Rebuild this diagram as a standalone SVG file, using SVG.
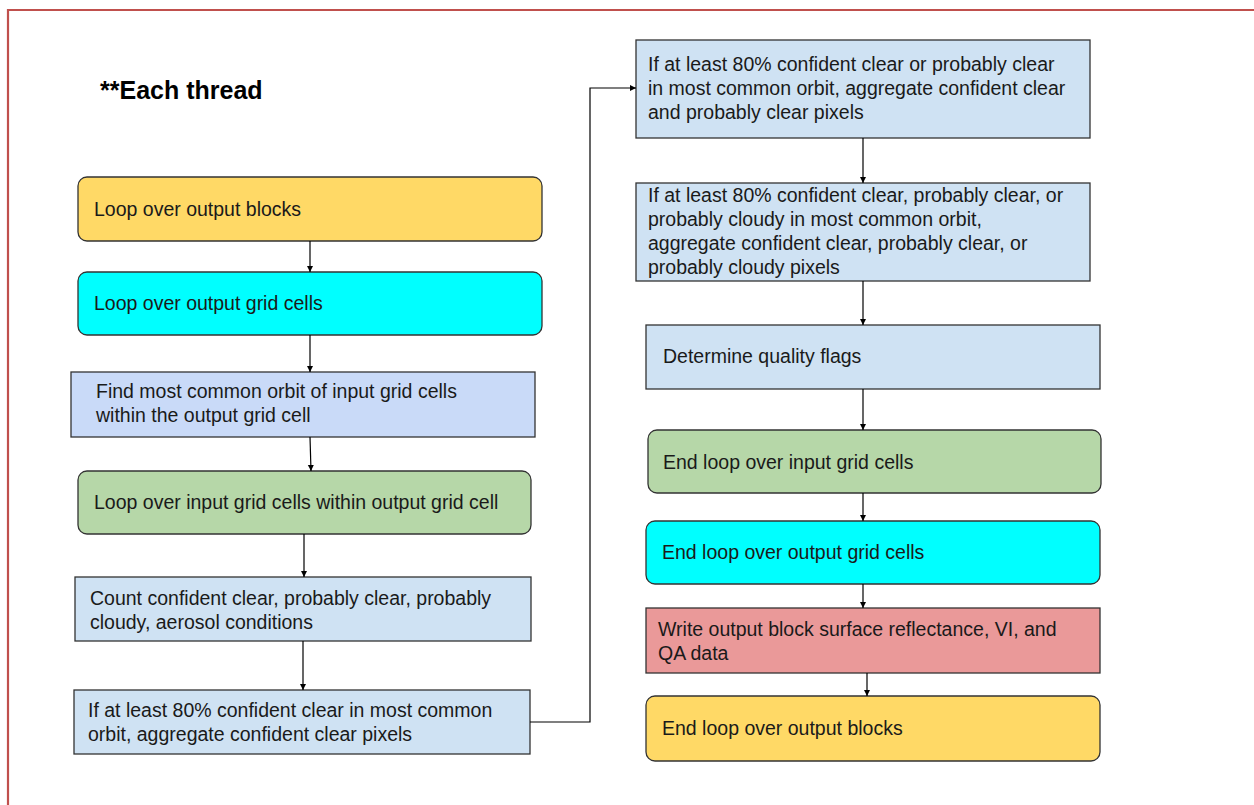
<svg xmlns="http://www.w3.org/2000/svg" width="1254" height="805" viewBox="0 0 1254 805">
  <defs>
    <marker id="arrow" markerWidth="8" markerHeight="8" refX="6" refY="3" orient="auto" markerUnits="userSpaceOnUse">
      <path d="M0,0 L6,3 L0,6 Z" fill="#000"/>
    </marker>
    <style>
      .box { stroke: #333; stroke-width: 1.3; }
      .yellow { fill: #ffd966; }
      .cyan { fill: #00ffff; }
      .blue { fill: #c9daf8; }
      .lblue { fill: #cfe2f3; }
      .green { fill: #b6d7a8; }
      .red { fill: #ea9999; }
      .lbl { font-family: "Liberation Sans", Arial, sans-serif; font-size: 19.5px; fill: #1a1a1a; }
      .title { font-family: "Liberation Sans", Arial, sans-serif; font-size: 25px; font-weight: bold; fill: #000; }
      .conn { fill: none; stroke: #000; stroke-width: 1.2; marker-end: url(#arrow); }
    </style>
  </defs>

  <rect width="1254" height="805" fill="#fff"/>
  <!-- frame -->
  <path d="M8,805 V10 H1254" fill="none" stroke="#c0504d" stroke-width="2.2"/>

  <text class="title" x="100" y="99">**Each thread</text>

  <!-- left column -->
  <g id="loop-output-blocks">
    <rect class="box yellow" x="78" y="177" width="464" height="64" rx="9"/>
    <text class="lbl" x="94" y="216">Loop over output blocks</text>
  </g>
  <g id="loop-output-grid">
    <rect class="box cyan" x="78" y="272" width="464" height="63" rx="9"/>
    <text class="lbl" x="94" y="310">Loop over output grid cells</text>
  </g>
  <g id="find-orbit">
    <rect class="box blue" x="71" y="372" width="464" height="65"/>
    <text class="lbl" x="96" y="398">Find most common orbit of input grid cells</text>
    <text class="lbl" x="96" y="422">within the output grid cell</text>
  </g>
  <g id="loop-input-grid">
    <rect class="box green" x="78" y="471" width="453" height="63" rx="9"/>
    <text class="lbl" x="94" y="509">Loop over input grid cells within output grid cell</text>
  </g>
  <g id="count-conditions">
    <rect class="box lblue" x="75" y="577" width="456" height="64"/>
    <text class="lbl" x="90" y="605">Count confident clear, probably clear, probably</text>
    <text class="lbl" x="90" y="629">cloudy, aerosol conditions</text>
  </g>
  <g id="aggregate-clear">
    <rect class="box lblue" x="74" y="690" width="456" height="64"/>
    <text class="lbl" x="88" y="717">If at least 80% confident clear in most common</text>
    <text class="lbl" x="88" y="741">orbit, aggregate confident clear pixels</text>
  </g>

  <!-- right column -->
  <g id="aggregate-probably-clear">
    <rect class="box lblue" x="636" y="40" width="454" height="98"/>
    <text class="lbl" x="648" y="71">If at least 80% confident clear or probably clear</text>
    <text class="lbl" x="648" y="95">in most common orbit, aggregate confident clear</text>
    <text class="lbl" x="648" y="119">and probably clear pixels</text>
  </g>
  <g id="aggregate-probably-cloudy">
    <rect class="box lblue" x="636" y="183" width="454" height="98"/>
    <text class="lbl" x="648" y="202">If at least 80% confident clear, probably clear, or</text>
    <text class="lbl" x="648" y="226">probably cloudy in most common orbit,</text>
    <text class="lbl" x="648" y="250">aggregate confident clear, probably clear, or</text>
    <text class="lbl" x="648" y="274">probably cloudy pixels</text>
  </g>
  <g id="quality-flags">
    <rect class="box lblue" x="646" y="325" width="454" height="64"/>
    <text class="lbl" x="663" y="363">Determine quality flags</text>
  </g>
  <g id="end-input-grid">
    <rect class="box green" x="648" y="430" width="453" height="63" rx="9"/>
    <text class="lbl" x="663" y="469">End loop over input grid cells</text>
  </g>
  <g id="end-output-grid">
    <rect class="box cyan" x="646" y="521" width="454" height="63" rx="9"/>
    <text class="lbl" x="662" y="559">End loop over output grid cells</text>
  </g>
  <g id="write-output">
    <rect class="box red" x="646" y="608" width="454" height="65"/>
    <text class="lbl" x="658" y="636">Write output block surface reflectance, VI, and</text>
    <text class="lbl" x="658" y="660">QA data</text>
  </g>
  <g id="end-output-blocks">
    <rect class="box yellow" x="646" y="696" width="454" height="65" rx="9"/>
    <text class="lbl" x="662" y="735">End loop over output blocks</text>
  </g>

  <!-- connectors -->
  <g id="connectors">
    <path class="conn" d="M310,241 V272"/>
    <path class="conn" d="M310,335 V372"/>
    <path class="conn" d="M310,437 L311,471"/>
    <path class="conn" d="M304,534 V577"/>
    <path class="conn" d="M303,641 V690"/>
    <path class="conn" d="M530,722 H590 V88 H636"/>
    <path class="conn" d="M863,138 V183"/>
    <path class="conn" d="M863,281 V325"/>
    <path class="conn" d="M863,389 V430"/>
    <path class="conn" d="M863,493 V521"/>
    <path class="conn" d="M863,584 V608"/>
    <path class="conn" d="M867,673 V696"/>
  </g>
</svg>
